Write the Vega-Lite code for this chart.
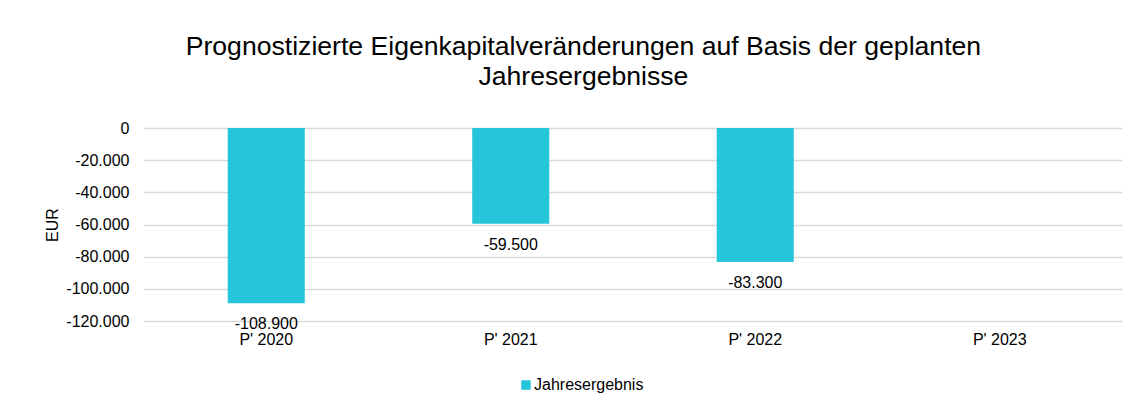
{
  "$schema": "https://vega.github.io/schema/vega-lite/v6.json",
  "autosize": {"type": "fit", "contains": "padding"},
  "width": 1136,
  "height": 409,
  "padding": {"left": 44, "top": 34, "right": 14, "bottom": 62},
  "config": {
    "locale": {"number": {"decimal": ",", "thousands": ".", "grouping": [3], "currency": ["", " €"], "minus": "-"}},
    "font": "Liberation Sans",
    "view": {"stroke": null},
    "axis": {"labelFont": "Liberation Sans", "titleFont": "Liberation Sans"}
  },
  "title": {
    "text": ["Prognostizierte Eigenkapitalveränderungen auf Basis der geplanten", "Jahresergebnisse"],
    "fontSize": 26.6,
    "fontWeight": "normal",
    "font": "Liberation Sans",
    "color": "#000000",
    "lineHeight": 30,
    "anchor": "middle",
    "frame": "bounds",
    "offset": 29
  },
  "data": {
    "values": [
      {"Jahr": "P' 2020", "Wert": -108900, "Serie": "Jahresergebnis"},
      {"Jahr": "P' 2021", "Wert": -59500, "Serie": "Jahresergebnis"},
      {"Jahr": "P' 2022", "Wert": -83300, "Serie": "Jahresergebnis"},
      {"Jahr": "P' 2023", "Wert": null, "Serie": "Jahresergebnis"}
    ]
  },
  "encoding": {
    "x": {
      "field": "Jahr",
      "type": "nominal",
      "scale": {"domain": ["P' 2020", "P' 2021", "P' 2022", "P' 2023"], "paddingInner": 0.685, "paddingOuter": 0.3425},
      "axis": {"title": null, "labelAngle": 0, "labelFontSize": 16, "labelColor": "#000000", "labelPadding": 10, "ticks": false, "domain": false, "grid": false}
    },
    "y": {
      "field": "Wert",
      "type": "quantitative",
      "scale": {"domain": [-120000, 0], "nice": false},
      "axis": {"title": "EUR", "titleFontSize": 16, "titleFontWeight": "normal", "titleColor": "#000000", "titlePadding": 5, "labelFontSize": 16, "labelColor": "#000000", "labelPadding": 15, "ticks": false, "domain": false, "values": [0, -20000, -40000, -60000, -80000, -100000, -120000], "format": ",d", "gridColor": "#d9d9d9", "gridWidth": 1.5}
    }
  },
  "layer": [
    {
      "mark": {"type": "bar"},
      "encoding": {
        "color": {
          "field": "Serie",
          "type": "nominal",
          "scale": {"range": ["#26C6DA"]},
          "legend": {"title": null, "orient": "none", "legendX": 374, "legendY": 249, "symbolType": "square", "symbolSize": 90, "labelFontSize": 16, "labelColor": "#000000", "symbolStrokeWidth": 0, "labelOffset": 0, "padding": 0}
        }
      }
    },
    {
      "mark": {"type": "text", "baseline": "top", "dy": 13, "fontSize": 16, "color": "#000000"},
      "encoding": {
        "text": {"field": "Wert", "type": "quantitative", "format": ",d"}
      }
    }
  ]
}
